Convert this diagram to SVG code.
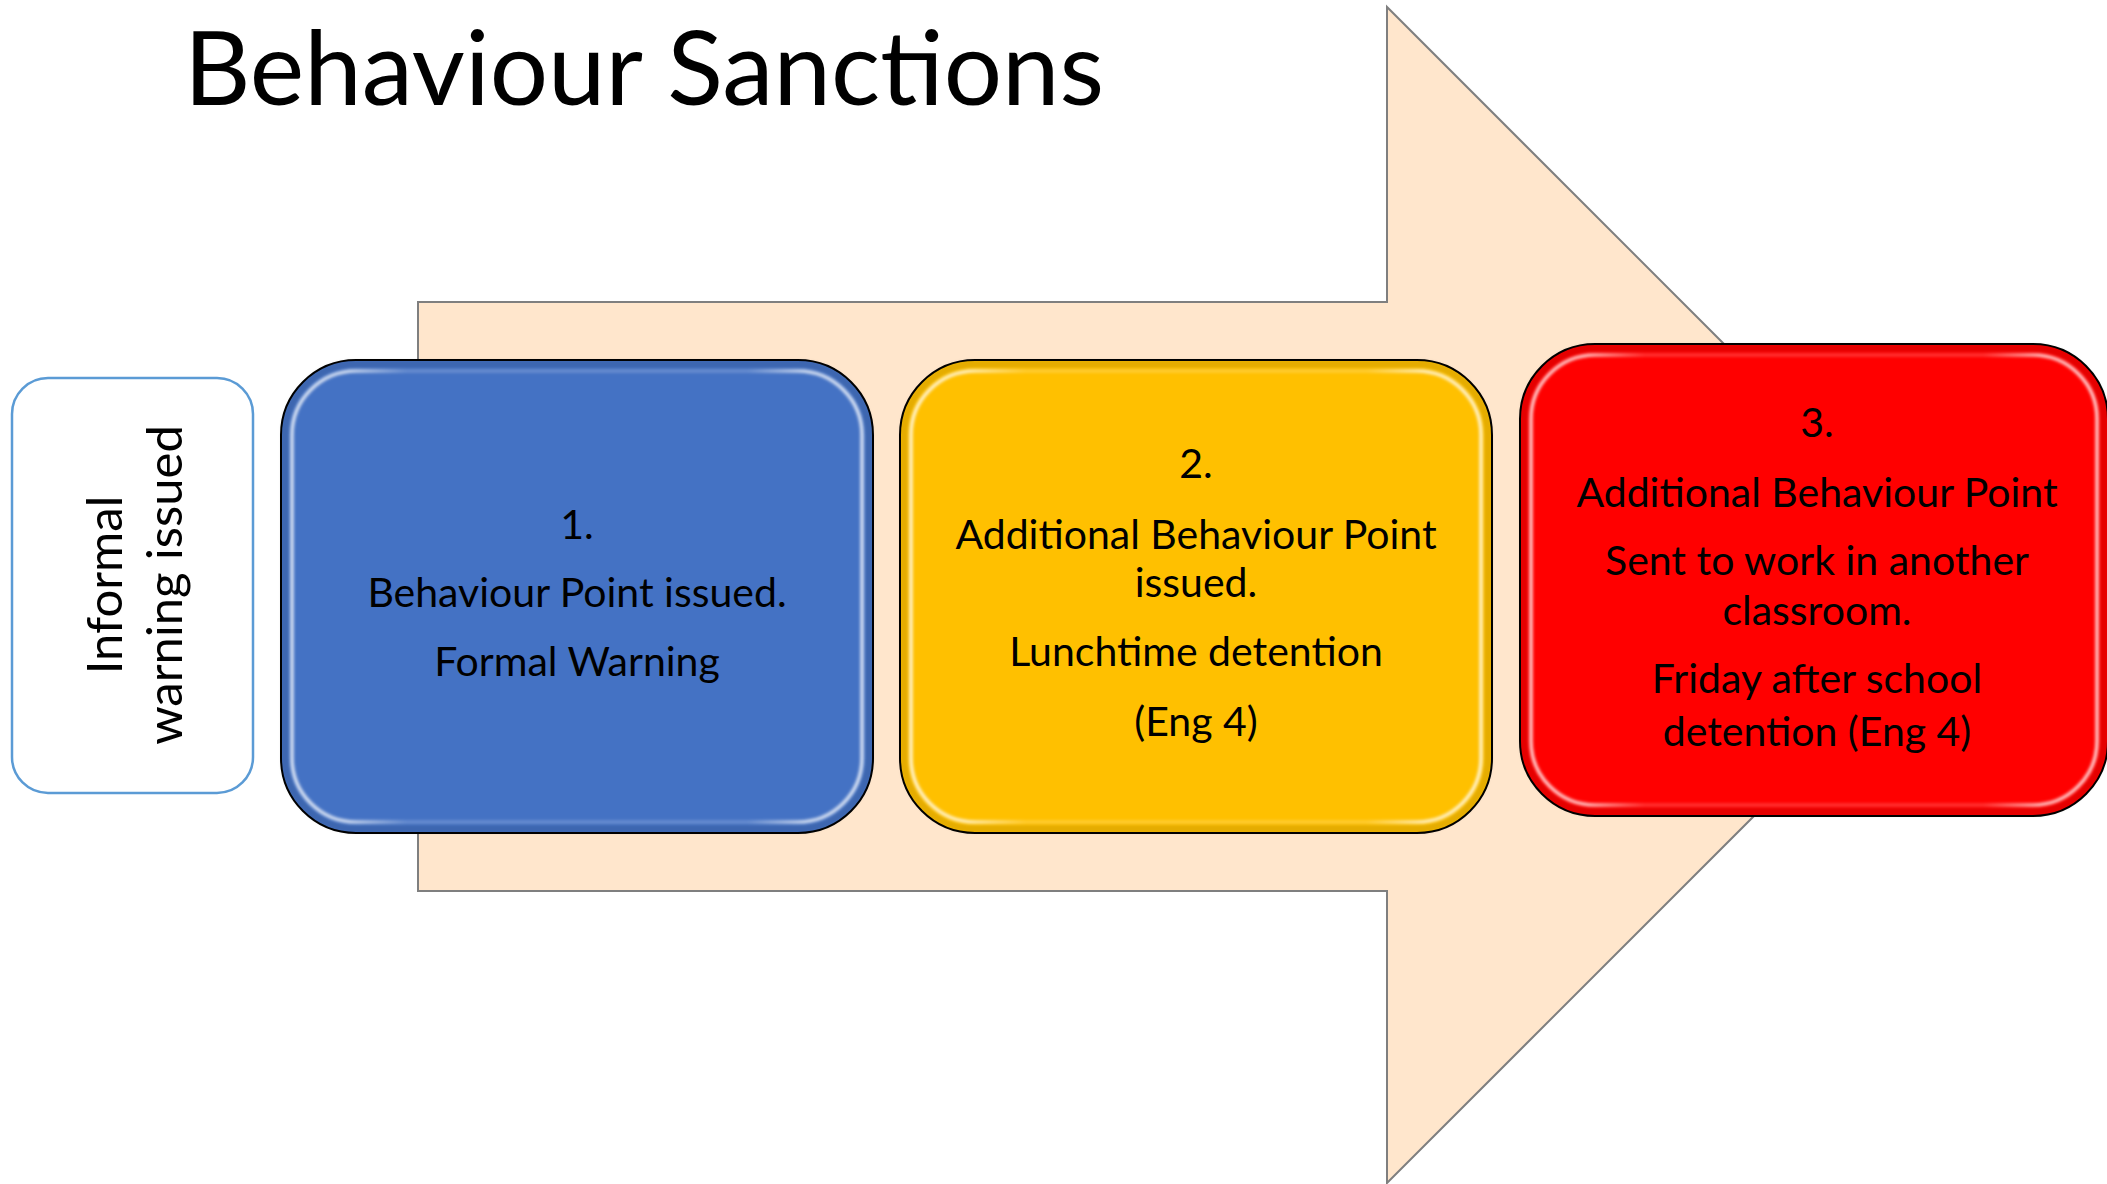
<svg xmlns="http://www.w3.org/2000/svg" width="2107" height="1184" viewBox="0 0 2107 1184">
  <defs>
    <style>
      .t { font-family: Lato, "Liberation Sans", sans-serif; fill: #000; text-anchor: middle; }
      .body { font-size: 41px; }
      .title { font-family: Lato, "Liberation Sans", sans-serif; font-size: 103px; fill: #000; }
      .informal { font-size: 49px; }
      .box { stroke: #000; stroke-width: 2; }
      .hl { fill: none; stroke: url(#hlgrad); stroke-width: 3.5; filter: url(#soft); }
      .shade { fill: none; stroke: #000; stroke-opacity: 0.10; stroke-width: 8; filter: url(#soft); }
    </style>
    <linearGradient id="hlgrad" x1="0" y1="0" x2="1" y2="0">
      <stop offset="0" stop-color="#fff" stop-opacity="0.8"/>
      <stop offset="0.1" stop-color="#fff" stop-opacity="0.75"/>
      <stop offset="0.2" stop-color="#fff" stop-opacity="0.2"/>
      <stop offset="0.8" stop-color="#fff" stop-opacity="0.2"/>
      <stop offset="0.9" stop-color="#fff" stop-opacity="0.75"/>
      <stop offset="1" stop-color="#fff" stop-opacity="0.8"/>
    </linearGradient>
    <filter id="soft" x="-5%" y="-5%" width="110%" height="110%">
      <feGaussianBlur stdDeviation="1.6"/>
    </filter>
  </defs>

  <rect width="2107" height="1184" fill="#fff"/>

  <g id="title">
    <text class="title" x="184" y="105">Behaviour Sanctions</text>
  </g>

  <g id="progress-arrow">
    <polygon points="418,302 1387,302 1387,7 1975,595 1387,1183 1387,891 418,891" fill="#FFE6CC" stroke="#7F7F7F" stroke-width="2"/>
  </g>

  <g id="informal">
    <rect x="12" y="378" width="241" height="415" rx="36" ry="36" fill="#fff" stroke="#5B9BD5" stroke-width="2.5"/>
    <text class="t informal" transform="translate(122,585) rotate(-90)">Informal</text>
    <text class="t informal" transform="translate(182,585) rotate(-90)">warning issued</text>
  </g>

  <g id="step1">
    <rect class="box" x="281" y="360" width="592" height="473" rx="75" ry="75" fill="#4472C4"/>
    <rect class="shade" x="285" y="364" width="584" height="465" rx="71" ry="71"/>
    <rect class="hl" x="292" y="371" width="570" height="451" rx="64" ry="64"/>
    <text class="t body" x="577" y="539">1.</text>
    <text class="t body" x="577" y="607">Behaviour Point issued.</text>
    <text class="t body" x="577" y="676">Formal Warning</text>
  </g>

  <g id="step2">
    <rect class="box" x="900" y="360" width="592" height="473" rx="75" ry="75" fill="#FFC000"/>
    <rect class="shade" x="904" y="364" width="584" height="465" rx="71" ry="71"/>
    <rect class="hl" x="911" y="371" width="570" height="451" rx="64" ry="64"/>
    <text class="t body" x="1196" y="478">2.</text>
    <text class="t body" x="1196" y="549">Additional Behaviour Point</text>
    <text class="t body" x="1196" y="597">issued.</text>
    <text class="t body" x="1196" y="666">Lunchtime detention</text>
    <text class="t body" x="1196" y="736">(Eng 4)</text>
  </g>

  <g id="step3">
    <rect class="box" x="1520" y="344" width="588" height="472" rx="75" ry="75" fill="#FF0000"/>
    <rect class="shade" x="1524" y="348" width="580" height="464" rx="71" ry="71"/>
    <rect class="hl" x="1531" y="355" width="566" height="450" rx="64" ry="64"/>
    <text class="t body" x="1817" y="437">3.</text>
    <text class="t body" x="1817" y="507">Additional Behaviour Point</text>
    <text class="t body" x="1817" y="575">Sent to work in another</text>
    <text class="t body" x="1817" y="625">classroom.</text>
    <text class="t body" x="1817" y="693">Friday after school</text>
    <text class="t body" x="1817" y="746">detention (Eng 4)</text>
  </g>
</svg>
